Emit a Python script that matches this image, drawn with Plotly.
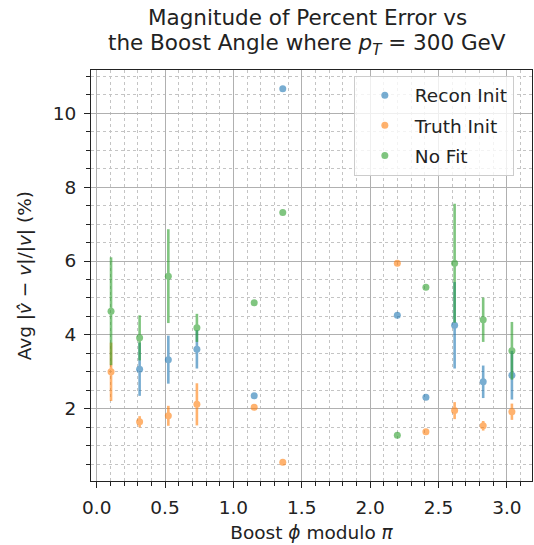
import plotly.graph_objects as go

# Boost angle (phi modulo pi) for each sample point
boost_phi = [0.105, 0.314, 0.524, 0.733, 1.152, 1.361, 2.199, 2.408, 2.618, 2.827, 3.037]

# Average |v_hat - v| / |v| in percent, with spread, per fit strategy
recon_mean = [None, 3.07, 3.33, 3.61, 2.35, 10.66, 4.53, 2.31, 4.26, 2.73, 2.91]
recon_err = [0, 0.72, 0.65, 0.52, 0.0, 0.0, 0.0, 0.0, 1.17, 0.44, 0.66]

truth_mean = [3.00, 1.65, 1.81, 2.12, 2.04, 0.55, 5.94, 1.38, 1.95, 1.54, 1.92]
truth_err = [0.79, 0.15, 0.27, 0.57, 0.0, 0.0, 0.0, 0.0, 0.23, 0.13, 0.22]

nofit_mean = [4.64, 3.92, 5.59, 4.19, 4.87, 7.31, 1.28, 5.29, 5.94, 4.41, 3.57]
nofit_err = [1.46, 0.61, 1.27, 0.38, 0.0, 0.0, 0.0, 0.0, 1.61, 0.60, 0.78]

x_ticks = [0.0, 0.5, 1.0, 1.5, 2.0, 2.5, 3.0]
y_ticks = [2, 4, 6, 8, 10]

title_lines = [
    "Magnitude of Percent Error vs",
    "the Boost Angle where <i>p</i><sub><i>T</i></sub> = 300 GeV",
]
y_label = "Avg |<i>v̂</i> − <i>v</i>|/|<i>v</i>| (%)"

series = [
    ("Recon Init", recon_mean, recon_err, "#1f77b4"),
    ("Truth Init", truth_mean, truth_err, "#ff7f0e"),
    ("No Fit", nofit_mean, nofit_err, "#2ca02c"),
]

fig = go.Figure()
for name, mean, err, color in series:
    fig.add_trace(go.Scatter(
        x=boost_phi, y=mean, name=name, mode="markers",
        legendgroup=name,
        marker=dict(color=color, size=7),
        error_y=dict(type="data", array=err, color=color, thickness=2.6, width=0),
        opacity=0.6,
    ))

font = "DejaVu Sans, sans-serif"
ink = "#222222"
axis_common = dict(
    showline=True, linecolor=ink, linewidth=1.2, mirror=True,
    ticks="outside", ticklen=6, tickwidth=1.1, tickcolor=ink,
    ticklabelstandoff=4,
    showgrid=True, gridcolor="#b0b0b0", gridwidth=1.2, zeroline=False,
    tickfont=dict(size=18.5, color=ink, family=font),
)
minor_common = dict(ticks="outside", ticklen=3.5, tickcolor=ink, tickwidth=1,
                    showgrid=True, gridcolor="#c4c4c4", griddash="dot", gridwidth=1)

fig.update_xaxes(
    range=[-0.0416, 3.184], tickvals=x_ticks, tickformat=".1f",
    minor=dict(dtick=0.1, tick0=0, **minor_common),
    title=dict(text="Boost <i>ϕ</i> modulo <i>π</i>", font=dict(size=18.5, color=ink, family=font), standoff=8),
    **axis_common,
)
fig.update_yaxes(
    range=[0.045, 11.17], tickvals=y_ticks,
    minor=dict(dtick=0.5, tick0=0, **minor_common),
    **axis_common,
)

# Vertical y-axis label
fig.add_annotation(
    text=y_label, xref="paper", yref="paper", x=-0.15, y=0.5,
    xanchor="center", yanchor="middle", textangle=-90, showarrow=False,
    font=dict(size=18.5, color=ink, family=font),
)

# Two-line title placed above the axes
for text, ypos in zip(title_lines, [1.128, 1.063]):
    fig.add_annotation(
        text=text, xref="paper", yref="paper", x=0.49, y=ypos,
        xanchor="center", yanchor="middle", showarrow=False,
        font=dict(size=21.5, color=ink, family=font),
    )

fig.update_layout(
    width=534, height=545,
    margin=dict(l=91, r=2, t=70, b=64),
    paper_bgcolor="white", plot_bgcolor="white",
    font=dict(family=font, color=ink),
    legend=dict(
        x=0.596, xanchor="left", y=0.986, yanchor="top",
        bgcolor="rgba(255,255,255,0.8)", bordercolor="#cccccc", borderwidth=1,
        font=dict(size=18.5, color=ink, family=font),
        tracegroupgap=3, itemwidth=50,
    ),
    showlegend=True,
)

fig.write_html("out.html")
